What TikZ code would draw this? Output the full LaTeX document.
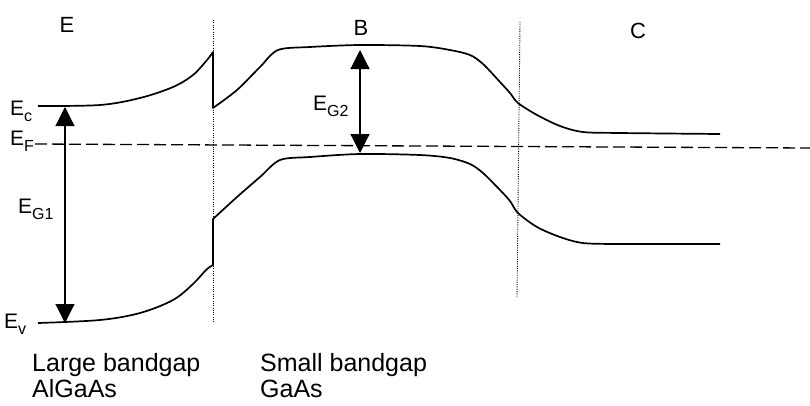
\documentclass[tikz,border=0pt]{standalone}
\usepackage{fontspec}
\setmainfont{Liberation Sans}
\usetikzlibrary{arrows.meta}
\newcommand{\lowsub}[1]{\raisebox{-0.3em}{\fontsize{16}{16}\selectfont #1}}
\tikzset{
  band/.style={line width=1.7pt, line join=round},
  gaparrow/.style={line width=1.2pt, {Triangle[width=19pt,length=19pt]}-{Triangle[width=19pt,length=19pt]}},
  boundary/.style={line width=0.9pt, dash pattern=on 1pt off 1.3pt},
  fermi/.style={line width=1.3pt, dash pattern=on 12pt off 5pt},
  lbl/.style={inner sep=0pt, font=\fontsize{21}{21}\selectfont},
  region/.style={inner sep=0pt, font=\fontsize{22}{22}\selectfont},
  note/.style={inner sep=0pt, align=left, anchor=base west, font=\fontsize{25}{26}\selectfont}
}
\begin{document}
\begin{tikzpicture}[x=1pt, y=-1pt]
\clip (0,0) rectangle (810,405);
\fill[white] (0,0) rectangle (810,405);

% region boundaries
\coordinate (d1t) at (213,20);
\coordinate (d1b) at (213,322);
\coordinate (d2t) at (520,22);
\coordinate (d2b) at (517,298);
\draw[boundary] (d1t) -- (d1b);
\draw[boundary] (d2t) -- (d2b);

% Fermi level
\coordinate (fL) at (35,144);
\coordinate (fR) at (810,148);
\draw[fermi] (fL) -- (fR);

% conduction band
\draw[band] plot[smooth, tension=0.55] coordinates {(38,106) (100,105) (140,98) (173,87) (193,75) (207,60) (213,52)}
  -- (213,108)
  -- plot[smooth, tension=0.5] coordinates {(213,108) (237,90) (260,67) (278,50) (310,47) (360,45) (420,46) (450,50) (470,55) (483,64) (500,82) (510,93) (518,103) (537,115) (560,126) (583,132) (620,133) (720,134)};

% valence band
\draw[band] plot[smooth, tension=0.55] coordinates {(38,323) (100,320) (140,313) (173,300) (193,284) (206,270) (213,265)}
  -- (213,219)
  -- plot[smooth, tension=0.5] coordinates {(213,219) (237,197) (260,177) (280,160) (310,157) (360,154) (420,155) (450,158) (470,164) (483,173) (500,190) (510,201) (518,213) (537,227) (560,237) (583,243) (620,244) (720,244)};

% gap arrows
\coordinate (g1t) at (65,107);
\coordinate (g1b) at (65,323);
\draw[gaparrow] (g1t) -- (g1b);
\coordinate (g2t) at (360,50);
\coordinate (g2b) at (360,153);
\draw[gaparrow] (g2t) -- (g2b);

% region labels
\node[region] (lE) at (67,25) {E};
\node[region] (lB) at (361,28) {B};
\node[region] (lC) at (638,31) {C};

% level labels
\node[lbl, anchor=base west] (lEc) at (10,115) {E\lowsub{c}};
\node[lbl, anchor=base west] (lEF) at (10,145) {E\lowsub{F}};
\node[lbl, anchor=base west] (lEG1) at (18,213) {E\lowsub{G1}};
\node[lbl, anchor=base west] (lEv) at (4,328) {E\lowsub{v}};
\node[lbl, anchor=base west] (lEG2) at (313,110) {E\lowsub{G2}};

% material notes
\node[note] (nL) at (32,397) {Large bandgap\\AlGaAs};
\node[note] (nS) at (260,397) {Small bandgap\\GaAs};
\end{tikzpicture}
\end{document}
